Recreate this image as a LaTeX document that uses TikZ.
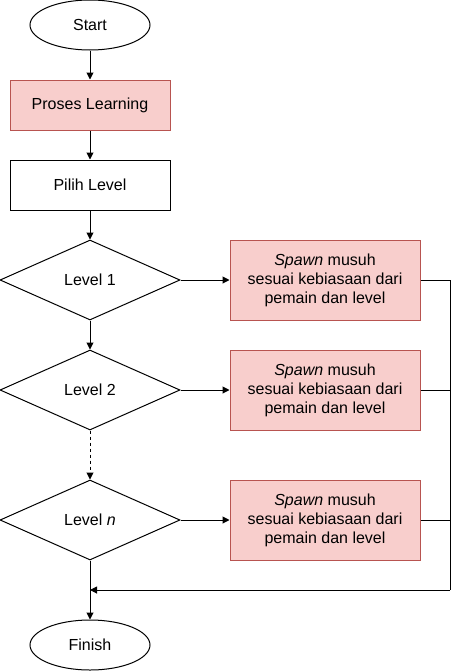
\documentclass[tikz,border=0pt]{standalone}
\usepackage{fontspec}
\setmainfont{Liberation Sans}
\usetikzlibrary{shapes.geometric,arrows.meta}
\definecolor{pinkfill}{HTML}{F8CECC}
\definecolor{pinkline}{HTML}{B85450}
\begin{document}
\begin{tikzpicture}[x=1pt,y=-1pt,line width=1pt,
	every node/.style={font=\fontsize{16}{19}\selectfont},
	terminal/.style={ellipse,draw,minimum width=120pt,minimum height=50pt,inner sep=0pt},
	process/.style={rectangle,draw,minimum width=160pt,minimum height=50pt},
	learn/.style={process,fill=pinkfill,draw=pinkline},
	decision/.style={diamond,draw,minimum width=180pt,minimum height=80pt,inner sep=0pt},
	spawn/.style={rectangle,draw=pinkline,fill=pinkfill,minimum width=190pt,minimum height=80pt,align=center},
	arrow/.style={-{Triangle[length=7pt,width=7pt]}}]
					\useasboundingbox (0,0) rectangle (460,672);
					\node[terminal] (start) at (90,25) {Start};
					\node[learn] (learning) at (90,105) {Proses Learning};
					\node[process] (pilih) at (90,185) {Pilih Level};
					\node[decision] (lvl1) at (90,280) {Level 1};
					\node[decision] (lvl2) at (90,390) {Level 2};
					\node[decision] (lvln) at (90,520) {Level \textit{n}};
					\node[terminal] (finish) at (90,645) {Finish};
					
					\node[spawn] (spawn1) at (325,280) {\textit{Spawn} musuh\\sesuai kebiasaan dari\\pemain dan level};
					\node[spawn] (spawn2) at (325,390) {\textit{Spawn} musuh\\sesuai kebiasaan dari\\pemain dan level};
					\node[spawn] (spawnn) at (325,520) {\textit{Spawn} musuh\\sesuai kebiasaan dari\\pemain dan level};
					
					\coordinate (kanan) at (450,590);
					\coordinate (balik) at (90,590);
					
					\draw[arrow] (start) -- (learning);
					\draw[arrow] (learning) -- (pilih);
					\draw[arrow] (pilih) -- (lvl1);
					\draw[arrow] (lvl1) -- (lvl2);
					\draw[arrow,dashed] (lvl2) -- (lvln);
					\draw[arrow] (lvln) -- (finish);
					
					\draw[arrow] (lvl1) -- (spawn1);
					\draw[arrow] (lvl2) -- (spawn2);
					\draw[arrow] (lvln) -- (spawnn);
					
					\draw (spawn1.east) -| (kanan);
					\draw (spawn2.east) -| (kanan);
					\draw (spawnn.east) -| (kanan);
					\draw[arrow] (kanan) -- (balik);
				\end{tikzpicture}
\end{document}
